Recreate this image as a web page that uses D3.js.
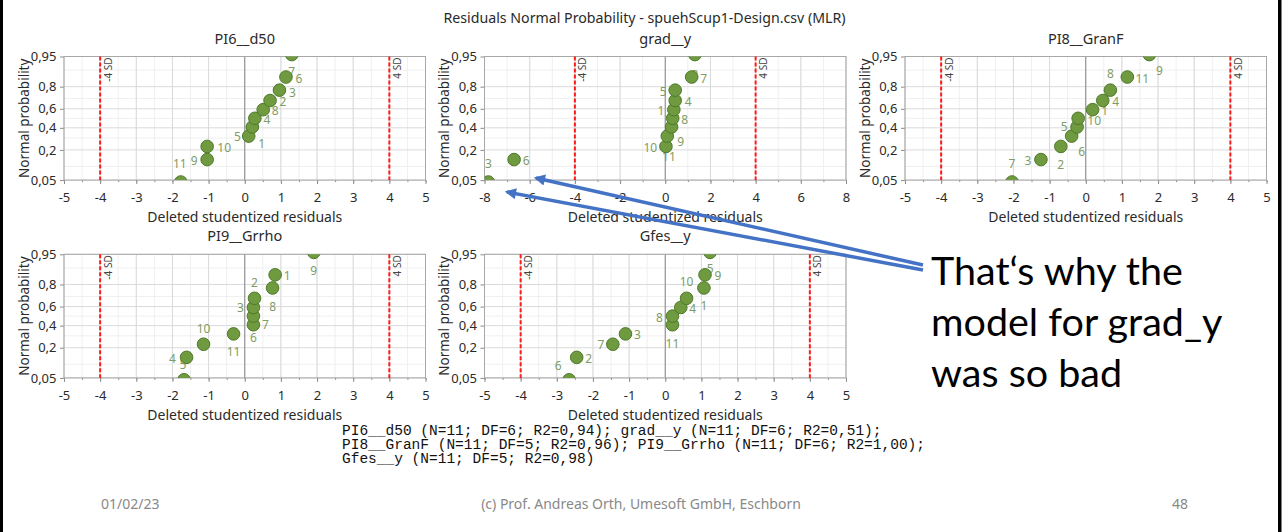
<!DOCTYPE html>
<html>
<head>
<meta charset="utf-8">
<script src="https://cdn.jsdelivr.net/npm/d3@7"></script>
<style>
  body { margin: 0; background: #fff; }
  svg text { font-family: "Noto Sans", "Open Sans", sans-serif; }
</style>
</head>
<body>
<svg id="chart" width="1283" height="532"></svg>
<script>
// normal probability of each rank (11 observations per model)
const normalProb = [0.045, 0.136, 0.227, 0.318, 0.409, 0.5, 0.591, 0.682, 0.773, 0.864, 0.955];

const panelNames = ["PI6__d50", "grad__y", "PI8__GranF", "PI9__Grrho", "Gfes__y"];

// deleted studentized residuals (sorted) and observation numbers, per model
const residPI6 = [-1.77, -1.04, -1.04, 0.11, 0.21, 0.28, 0.51, 0.70, 0.96, 1.14, 1.30];
const obsPI6 = ["11", "9", "10", "1", "5", "4", "8", "2", "3", "6", "7"];
const residGrad = [-7.83, -6.69, 0.03, 0.09, 0.28, 0.33, 0.38, 0.44, 0.44, 1.17, 1.31];
const obsGrad = ["3", "6", "11", "10", "9", "8", "1", "4", "5", "7", "2"];
const residPI8 = [-2.04, -1.24, -0.69, -0.39, -0.24, -0.21, 0.19, 0.47, 0.68, 1.15, 1.76];
const obsPI8 = ["7", "3", "2", "6", "5", "10", "1", "4", "8", "11", "9"];
const residPI9 = [-1.68, -1.61, -1.14, -0.31, 0.24, 0.24, 0.24, 0.27, 0.77, 0.84, 1.91];
const obsPI9 = ["5", "4", "10", "11", "6", "7", "3", "2", "8", "1", "9"];
const residGfes = [-2.66, -2.45, -1.45, -1.10, 0.20, 0.20, 0.43, 0.59, 1.07, 1.10, 1.24];
const obsGfes = ["6", "2", "7", "3", "11", "8", "4", "10", "1", "9", "5"];

const xDomains = [[-5, 5], [-8, 8], [-5, 5], [-5, 5], [-5, 5]];
const xTickStep = [1, 2, 1, 1, 1];
const sdLimits = [-4, 4];
const sdLabels = ["-4 SD", "4 SD"];

const probTicks = [0.05, 0.2, 0.4, 0.6, 0.8, 0.95];
const probTickLabels = ["0,05", "0,2", "0,4", "0,6", "0,8", "0,95"];
const probMinor = [0.1, 0.3, 0.5, 0.7, 0.9];

const fitLines = [
  "PI6__d50 (N=11; DF=6; R2=0,94); grad__y (N=11; DF=6; R2=0,51);",
  "PI8__GranF (N=11; DF=5; R2=0,96); PI9__Grrho (N=11; DF=6; R2=1,00);",
  "Gfes__y (N=11; DF=5; R2=0,98)"
];
const noteLines = ["That\u2018s why the", "model for grad_y", "was so bad"];

const resids = [residPI6, residGrad, residPI8, residPI9, residGfes];
const obs = [obsPI6, obsGrad, obsPI8, obsPI9, obsGfes];

// layout --------------------------------------------------------------
const panelGrid = [[0, 0], [1, 0], [2, 0], [0, 1], [1, 1]];
const colLeft = [64, 484.5, 905];
const rowTop = [56.5, 254.3];
const plotW = 361.5, plotH = 123.6;

// label offsets (dx, dy) from each point, mimicking the original placement
const labelOffsets = [
  [[-1,-18],[-13,1],[17,1],[13,7],[-15,10],[12,1],[12,1],[13,1],[13,2],[13,1],[0,17]],
  [[0,-18],[12,1],[3,10],[-17,11],[9,15],[12,1],[-13,1],[13,1],[-12,1],[12,1],[0,20]],
  [[0,-18],[-13,1],[0,18],[10,15],[-13,0],[16,2],[12,1],[13,1],[0,-17],[15,1],[10,16]],
  [[-1,-15],[-14,1],[0,-16],[0,18],[0,13],[12,8],[-13,0],[0,-16],[0,19],[12,1],[0,18]],
  [[-11,-14],[12,1],[-12,0],[12,1],[0,19],[-13,1],[12,1],[0,-17],[0,18],[13,1],[0,16]]
];

// inverse of the standard normal CDF (Acklam, central region)
function probit(p) {
  const a = [-3.969683028665376e+01, 2.209460984245205e+02, -2.759285104469687e+02,
             1.383577518672690e+02, -3.066479806614716e+01, 2.506628277459239e+00];
  const b = [-5.447609879822406e+01, 1.615858368580409e+02, -1.556989798598866e+02,
             6.680131188771972e+01, -1.328068155288572e+01];
  const q = p - 0.5, r = q * q;
  return (((((a[0]*r + a[1])*r + a[2])*r + a[3])*r + a[4])*r + a[5]) * q /
         (((((b[0]*r + b[1])*r + b[2])*r + b[3])*r + b[4])*r + 1);
}

const svg = d3.select("#chart");

// slide frame edges
svg.append("rect").attr("x", 0).attr("y", 0).attr("width", 3).attr("height", 532).attr("fill", "#000");
svg.append("rect").attr("x", 1278).attr("y", 0).attr("width", 3.5).attr("height", 532).attr("fill", "#000");

svg.append("text")
  .attr("x", 644.5).attr("y", 23)
  .attr("text-anchor", "middle")
  .style("font-size", "14.2px").style("fill", "#2a2a2a")
  .text("Residuals Normal Probability - spuehScup1-Design.csv (MLR)");

function drawPanel(i) {
  const [col, row] = panelGrid[i];
  const g = svg.append("g")
    .attr("transform", "translate(" + colLeft[col] + "," + rowTop[row] + ")");

  const x = d3.scaleLinear().domain(xDomains[i]).range([0, plotW]);
  const z = d3.scaleLinear().domain([probit(0.05), probit(0.95)]).range([plotH, 0]);
  const y = p => z(probit(p));

  const step = xTickStep[i];
  const majorX = d3.range(xDomains[i][0], xDomains[i][1] + 0.001, step);
  const minorX = d3.range(xDomains[i][0], xDomains[i][1] + 0.001, step / 2);

  // grid
  g.selectAll(".minx").data(minorX).enter().append("line")
    .attr("x1", d => x(d)).attr("x2", d => x(d)).attr("y1", 0).attr("y2", plotH)
    .attr("stroke", "#efefef");
  g.selectAll(".miny").data(probMinor).enter().append("line")
    .attr("x1", 0).attr("x2", plotW).attr("y1", d => y(d)).attr("y2", d => y(d))
    .attr("stroke", "#efefef");
  g.selectAll(".majx").data(majorX).enter().append("line")
    .attr("x1", d => x(d)).attr("x2", d => x(d)).attr("y1", 0).attr("y2", plotH)
    .attr("stroke", "#dadada");
  g.selectAll(".majy").data(probTicks).enter().append("line")
    .attr("x1", 0).attr("x2", plotW).attr("y1", d => y(d)).attr("y2", d => y(d))
    .attr("stroke", "#dadada");
  g.append("line")
    .attr("x1", x(0)).attr("x2", x(0)).attr("y1", 0).attr("y2", plotH)
    .attr("stroke", "#8a8a8a");

  // axes
  const xAxis = g.append("g").attr("transform", "translate(0," + plotH + ")")
    .call(d3.axisBottom(x).tickValues(majorX).tickSize(4).tickPadding(9)
      .tickFormat(d => String(d)));
  g.append("g").attr("transform", "translate(0," + plotH + ")")
    .call(d3.axisBottom(x).tickValues(minorX).tickSize(2).tickFormat(""))
    .select(".domain").remove();
  const yAxis = g.append("g")
    .call(d3.axisLeft(z).tickValues(probTicks.map(probit)).tickSize(4).tickPadding(3.5)
      .tickFormat((d, j) => probTickLabels[j]));
  [xAxis, yAxis].forEach(a => {
    a.select(".domain").remove();
    a.selectAll("text").style("font-size", "13px").style("fill", "#2a2a2a")
      .style("font-family", "'Noto Sans', sans-serif");
  });
  g.selectAll(".tick line").attr("stroke", "#8a8a8a");

  g.append("rect").attr("width", plotW).attr("height", plotH)
    .attr("fill", "none").attr("stroke", "#a8a8a8");

  // +-4 SD limits
  sdLimits.forEach((s, k) => {
    g.append("line")
      .attr("x1", x(s)).attr("x2", x(s)).attr("y1", 0).attr("y2", plotH)
      .attr("stroke", "#ff1a1a").attr("stroke-width", 2).attr("stroke-dasharray", "4 2");
    g.append("text")
      .attr("transform", "translate(" + (x(s) + 11.5) + ",1) rotate(-90)")
      .attr("text-anchor", "end")
      .style("font-size", "10px").style("fill", "#444")
      .text(sdLabels[k]);
  });

  // points and observation labels, clipped to the plot area
  const clipId = "clip" + i;
  g.append("clipPath").attr("id", clipId)
    .append("rect").attr("width", plotW).attr("height", plotH);
  const pts = g.append("g").attr("clip-path", "url(#" + clipId + ")");
  const rows = resids[i].map((v, j) => ({ v: v, p: normalProb[j], lab: obs[i][j], off: labelOffsets[i][j] }));

  pts.selectAll(".lab").data(rows).enter().append("text")
    .attr("x", d => x(d.v) + d.off[0]).attr("y", d => y(d.p) + d.off[1])
    .attr("text-anchor", "middle").attr("dominant-baseline", "central")
    .style("font-size", "12px").style("fill", "#7f9c66")
    .text(d => d.lab);
  pts.selectAll(".pt").data(rows).enter().append("circle")
    .attr("cx", d => x(d.v)).attr("cy", d => y(d.p)).attr("r", 6.3)
    .attr("fill", "#6f9a3f").attr("stroke", "#4e7a2a").attr("stroke-width", 1);

  // titles
  g.append("text").attr("x", plotW / 2).attr("y", -13)
    .attr("text-anchor", "middle").style("font-size", "14.5px").style("fill", "#2a2a2a")
    .text(panelNames[i]);
  g.append("text").attr("x", plotW / 2).attr("y", plotH + 42)
    .attr("text-anchor", "middle").style("font-size", "14px").style("fill", "#2a2a2a")
    .text("Deleted studentized residuals");
  g.append("text")
    .attr("transform", "translate(-35.5," + (plotH / 2) + ") rotate(-90)")
    .attr("text-anchor", "middle").style("font-size", "13.5px").style("fill", "#2a2a2a")
    .text("Normal probability");
}

panelNames.forEach((n, i) => drawPanel(i));

// model fit summary
svg.append("g").selectAll("text").data(fitLines).enter().append("text")
  .attr("x", 342).attr("y", (d, i) => 435 + i * 14)
  .style("font-family", "'Liberation Mono', monospace").style("font-size", "14.5px")
  .style("fill", "#111")
  .text(d => d);

// annotation
svg.append("g").selectAll("text").data(noteLines).enter().append("text")
  .attr("x", 931).attr("y", (d, i) => 285 + i * 51)
  .style("font-family", "Lato, sans-serif").style("font-size", "39.5px").style("fill", "#000")
  .text(d => d);

// arrows
const defs = svg.append("defs");
defs.append("marker").attr("id", "head")
  .attr("viewBox", "0 0 10 10").attr("refX", 8).attr("refY", 5)
  .attr("markerWidth", 4.2).attr("markerHeight", 3.2).attr("orient", "auto")
  .attr("markerUnits", "strokeWidth")
  .append("path").attr("d", "M0,0 L10,5 L0,10 Z").attr("fill", "#4472c4");
const arrows = [[923, 265, 536, 178], [923, 270, 507, 192]];
svg.selectAll(".arrow").data(arrows).enter().append("line")
  .attr("x1", d => d[0]).attr("y1", d => d[1]).attr("x2", d => d[2]).attr("y2", d => d[3])
  .attr("stroke", "#4472c4").attr("stroke-width", 3.5)
  .attr("marker-end", "url(#head)");

// footer
const footer = svg.append("g").style("font-family", "Lato, sans-serif")
  .style("font-size", "14px").style("fill", "#898989");
footer.append("text").attr("x", 101).attr("y", 509).text("01/02/23");
footer.append("text").attr("x", 641).attr("y", 509).attr("text-anchor", "middle")
  .text("(c) Prof. Andreas Orth, Umesoft GmbH, Eschborn");
footer.append("text").attr("x", 1180).attr("y", 509).attr("text-anchor", "middle").text("48");
</script>
</body>
</html>
